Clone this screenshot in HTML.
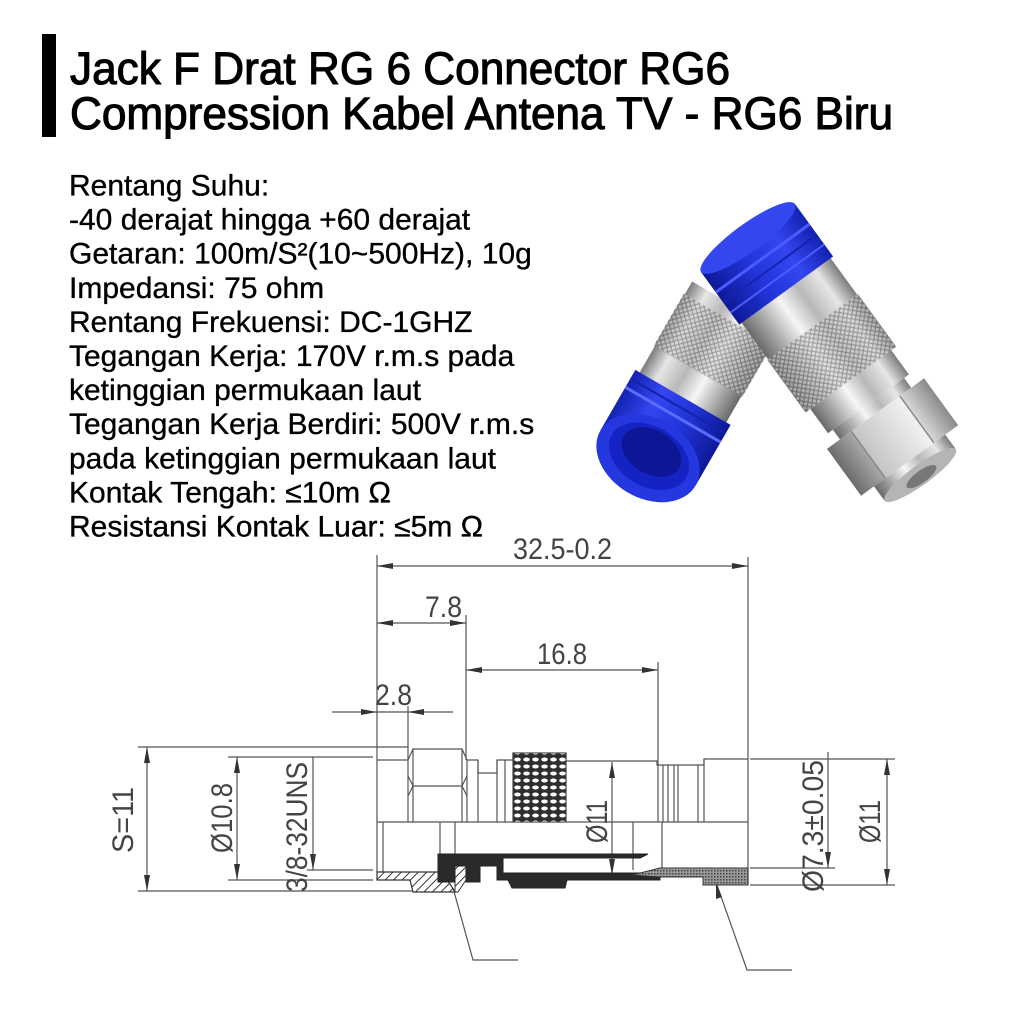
<!DOCTYPE html>
<html><head><meta charset="utf-8"><style>
html,body{margin:0;padding:0;background:#fff;}
svg{display:block;}
</style></head><body>
<svg width="1024" height="1024" viewBox="0 0 1024 1024" xmlns="http://www.w3.org/2000/svg">
<defs>
  <linearGradient id="cyl" x1="0" y1="0" x2="0" y2="1">
    <stop offset="0" stop-color="#7c7c7c"/><stop offset="0.18" stop-color="#e6e6e6"/>
    <stop offset="0.4" stop-color="#b8b8b8"/><stop offset="0.6" stop-color="#f6f6f6"/>
    <stop offset="0.85" stop-color="#9c9c9c"/><stop offset="1" stop-color="#6a6a6a"/>
  </linearGradient>
  <linearGradient id="hexg" x1="0" y1="0" x2="0" y2="1">
    <stop offset="0" stop-color="#8a8a8a"/><stop offset="0.25" stop-color="#d8d8d8"/>
    <stop offset="0.25" stop-color="#f2f2f2"/><stop offset="0.75" stop-color="#c4c4c4"/>
    <stop offset="0.75" stop-color="#a8a8a8"/><stop offset="1" stop-color="#6c6c6c"/>
  </linearGradient>
  <linearGradient id="bcyl" x1="0" y1="0" x2="0" y2="1">
    <stop offset="0" stop-color="#1322b0"/><stop offset="0.3" stop-color="#3446f0"/>
    <stop offset="0.6" stop-color="#2236dc"/><stop offset="1" stop-color="#0e1996"/>
  </linearGradient>
  <pattern id="knurl" width="6" height="6" patternUnits="userSpaceOnUse">
    <rect width="6" height="6" fill="#cfcfcf"/>
    <path d="M0,0 L6,6 M6,0 L0,6" stroke="#666" stroke-width="1.2"/>
  </pattern>
  <pattern id="dknurl" width="9" height="7" patternUnits="userSpaceOnUse">
    <rect width="9" height="7" fill="#2e2e2e"/>
    <ellipse cx="4.5" cy="3.5" rx="3.3" ry="2" fill="#fff"/>
  </pattern>
  <pattern id="hatch" width="6" height="6" patternUnits="userSpaceOnUse" patternTransform="rotate(45)">
    <rect width="6" height="6" fill="#fff"/>
    <line x1="0" y1="0" x2="0" y2="6" stroke="#333" stroke-width="2"/>
  </pattern>
  <pattern id="xhatch" width="3" height="3" patternUnits="userSpaceOnUse">
    <rect width="3" height="3" fill="#999"/>
    <rect width="1.5" height="1.5" fill="#444"/>
  </pattern>
</defs>

<!-- Title -->
<rect x="42" y="34" width="14" height="103" fill="#000"/>
<g font-family="Liberation Sans, Arial, sans-serif" fill="#000" stroke="#000" stroke-width="1.1">
  <text x="70" y="84" font-size="45" textLength="660" lengthAdjust="spacingAndGlyphs">Jack F Drat RG 6 Connector RG6</text>
  <text x="70" y="129" font-size="45" textLength="823" lengthAdjust="spacingAndGlyphs">Compression Kabel Antena TV - RG6 Biru</text>
</g>

<!-- Spec text -->
<g font-family="Liberation Sans, Arial, sans-serif" font-size="30" fill="#000" stroke="#000" stroke-width="0.35">
  <text x="69" y="195.5">Rentang Suhu:</text>
  <text x="69" y="229.6">-40 derajat hingga +60 derajat</text>
  <text x="69" y="263.7">Getaran: 100m/S²(10~500Hz), 10g</text>
  <text x="69" y="297.8">Impedansi: 75 ohm</text>
  <text x="69" y="331.9">Rentang Frekuensi: DC-1GHZ</text>
  <text x="69" y="366">Tegangan Kerja: 170V r.m.s pada</text>
  <text x="69" y="400.1">ketinggian permukaan laut</text>
  <text x="69" y="434.2">Tegangan Kerja Berdiri: 500V r.m.s</text>
  <text x="69" y="468.3">pada ketinggian permukaan laut</text>
  <text x="69" y="502.4">Kontak Tengah: ≤10m Ω</text>
  <text x="69" y="536.5">Resistansi Kontak Luar: ≤5m Ω</text>
</g>

<!-- Photo: left connector -->
<g transform="translate(648,458) rotate(-60)">
  <rect x="70" y="-50" width="105" height="100" fill="url(#cyl)"/>
  <rect x="100" y="-51" width="60" height="102" fill="url(#knurl)"/>
  <rect x="100" y="-51" width="60" height="102" fill="url(#cyl)" opacity="0.45"/>
  <rect x="0" y="-55" width="70" height="110" fill="url(#bcyl)"/>
  <line x1="50" y1="-55" x2="50" y2="55" stroke="#5a6cff" stroke-width="3"/>
  <line x1="60" y1="-55" x2="60" y2="55" stroke="#1422a8" stroke-width="2"/>
  <ellipse cx="0" cy="0" rx="40" ry="55" fill="#2538e0"/>
  <ellipse cx="2" cy="0" rx="30" ry="43" fill="#1523c4"/>
  <ellipse cx="7" cy="0" rx="22" ry="32" fill="#0d1796"/>
</g>
<!-- Photo: right connector -->
<g transform="translate(748,238) rotate(54)">
  <rect x="65" y="-55" width="45" height="110" fill="url(#cyl)"/>
  <rect x="110" y="-56" width="65" height="112" fill="url(#knurl)"/>
  <rect x="110" y="-56" width="65" height="112" fill="url(#cyl)" opacity="0.45"/>
  <rect x="175" y="-50" width="30" height="100" fill="url(#cyl)"/>
  <rect x="205" y="-44" width="12" height="88" fill="url(#cyl)"/>
  <rect x="217" y="-60" width="58" height="120" fill="url(#hexg)"/>
  <line x1="217" y1="-30" x2="275" y2="-30" stroke="#888" stroke-width="1.5"/>
  <line x1="217" y1="30" x2="275" y2="30" stroke="#888" stroke-width="1.5"/>
  <rect x="275" y="-44" width="18" height="88" fill="url(#cyl)"/>
  <ellipse cx="293" cy="0" rx="10" ry="44" fill="#b5b5b5"/>
  <ellipse cx="295" cy="0" rx="6" ry="18" fill="#777"/>
  <rect x="0" y="-58" width="65" height="116" fill="url(#bcyl)"/>
  <line x1="25" y1="-58" x2="25" y2="58" stroke="#4a5cff" stroke-width="3"/>
  <line x1="38" y1="-58" x2="38" y2="58" stroke="#1523b0" stroke-width="2"/>
  <line x1="50" y1="-58" x2="50" y2="58" stroke="#4a5cff" stroke-width="2"/>
  <ellipse cx="0" cy="0" rx="14" ry="58" fill="#3447ee"/>
</g>

<!-- Technical drawing -->
<g stroke="#555" stroke-width="1.2" fill="none">
  <line x1="377" y1="566" x2="748" y2="566"/>
  <line x1="377" y1="623" x2="466" y2="623"/>
  <line x1="466" y1="670" x2="658" y2="670"/>
  <line x1="332" y1="712" x2="453" y2="712"/>
  <line x1="377" y1="555" x2="377" y2="872"/>
  <line x1="466" y1="615" x2="466" y2="760"/>
  <line x1="658" y1="662" x2="658" y2="822"/>
  <line x1="748" y1="557" x2="748" y2="885"/>
  <line x1="408" y1="706" x2="408" y2="822"/>
  <line x1="138" y1="747" x2="408" y2="747"/>
  <line x1="138" y1="891" x2="412" y2="891"/>
  <line x1="147" y1="747" x2="147" y2="891"/>
  <line x1="228" y1="757" x2="373" y2="757"/>
  <line x1="228" y1="880" x2="373" y2="880"/>
  <line x1="237" y1="757" x2="237" y2="880"/>
  <line x1="307" y1="870" x2="373" y2="870"/>
  <line x1="313" y1="757" x2="313" y2="870"/>
  <line x1="612" y1="762" x2="612" y2="875"/>
  <line x1="750" y1="759" x2="895" y2="759"/>
  <line x1="750" y1="868" x2="835" y2="868"/>
  <line x1="750" y1="885" x2="895" y2="885"/>
  <line x1="828" y1="752" x2="828" y2="868"/>
  <line x1="887" y1="759" x2="887" y2="885"/>
  <path d="M377,760 H408 L413,749 H462 L467,760 H478 V773 H497 V760 H513 V753 H566 V761 H657 V765 H704 V759 H748"/>
  <line x1="413" y1="786" x2="462" y2="786"/>
  <path d="M408,776 L413,786 L408,796 M467,776 L462,786 L467,796"/>
  <line x1="413" y1="749" x2="413" y2="822"/>
  <line x1="462" y1="749" x2="462" y2="822"/>
  <line x1="467" y1="760" x2="467" y2="822"/>
  <line x1="478" y1="760" x2="478" y2="822"/>
  <line x1="497" y1="760" x2="497" y2="822"/>
  <line x1="505" y1="760" x2="505" y2="822"/>
  <line x1="513" y1="753" x2="513" y2="822"/>
  <line x1="566" y1="753" x2="566" y2="822"/>
  <line x1="663" y1="765" x2="663" y2="822"/>
  <line x1="668" y1="765" x2="668" y2="822"/>
  <line x1="674" y1="765" x2="674" y2="822"/>
  <line x1="678" y1="765" x2="678" y2="822"/>
  <line x1="698" y1="765" x2="698" y2="822"/>
  <line x1="704" y1="759" x2="704" y2="822"/>
  <line x1="377" y1="822" x2="748" y2="822"/>
  <line x1="383" y1="822" x2="383" y2="872"/>
  <line x1="440" y1="822" x2="440" y2="854"/>
  <line x1="455" y1="822" x2="455" y2="866"/>
  <line x1="633" y1="822" x2="633" y2="870"/>
  <line x1="662" y1="822" x2="662" y2="868"/>
  <path d="M453,888 L473,960 H518"/>
  <path d="M717,885 L747,970 H792"/>
</g>
<rect x="513" y="753" width="53" height="69" fill="url(#dknurl)" stroke="#444" stroke-width="1"/>
<polygon points="377,872 440,872 450,884 455,892 413,892 410,880 377,880" fill="url(#hatch)" stroke="#333" stroke-width="1.2"/>
<polygon points="455,866 466,866 466,880 458,892 455,892" fill="url(#hatch)" stroke="#333" stroke-width="1"/>
<path d="M438,854 H648 L640,858 H503 V873 H660 V880 H567 L565,888 H512 L508,880 H497 V866 H480 V882 H466 V866 H455 V882 H438 Z" fill="#2a2a2a" stroke="#222" stroke-width="1"/>
<polygon points="632,875 660,868 748,868 748,885 703,885 703,877 660,877" fill="url(#xhatch)" stroke="#333" stroke-width="1"/>

<g fill="#333">
  <polygon points="377,566 393,563 393,569"/>
  <polygon points="748,566 732,563 732,569"/>
  <polygon points="377,623 393,620 393,626"/>
  <polygon points="466,623 450,620 450,626"/>
  <polygon points="466,670 482,667 482,673"/>
  <polygon points="658,670 642,667 642,673"/>
  <polygon points="377,712 361,709 361,715"/>
  <polygon points="408,712 424,709 424,715"/>
  <polygon points="147,747 144,763 150,763"/>
  <polygon points="147,891 144,875 150,875"/>
  <polygon points="237,757 234,773 240,773"/>
  <polygon points="237,880 234,864 240,864"/>
  <polygon points="313,870 310,854 316,854"/>
  <polygon points="612,762 609,778 615,778"/>
  <polygon points="612,875 609,859 615,859"/>
  <polygon points="828,868 825,852 831,852"/>
  <polygon points="887,759 884,775 890,775"/>
  <polygon points="887,885 884,869 890,869"/>
  <polygon points="716,883 716,899 722,897"/>
</g>

<g font-family="Liberation Sans Narrow, Liberation Sans, Arial, sans-serif" font-size="30" fill="#444">
  <text x="513" y="559" textLength="99" lengthAdjust="spacingAndGlyphs">32.5-0.2</text>
  <text x="425" y="617" textLength="37" lengthAdjust="spacingAndGlyphs">7.8</text>
  <text x="537" y="664" textLength="50" lengthAdjust="spacingAndGlyphs">16.8</text>
  <text x="375" y="705" textLength="37" lengthAdjust="spacingAndGlyphs">2.8</text>
  <text transform="translate(133,853) rotate(-90)" textLength="66" lengthAdjust="spacingAndGlyphs">S=11</text>
  <text transform="translate(232,853) rotate(-90)" textLength="70" lengthAdjust="spacingAndGlyphs">Ø10.8</text>
  <text transform="translate(307,892) rotate(-90)" textLength="130" lengthAdjust="spacingAndGlyphs">3/8-32UNS</text>
  <text transform="translate(607,843) rotate(-90)" textLength="43" lengthAdjust="spacingAndGlyphs">Ø11</text>
  <text transform="translate(823,892) rotate(-90)" textLength="132" lengthAdjust="spacingAndGlyphs">Ø7.3±0.05</text>
  <text transform="translate(880,843) rotate(-90)" textLength="43" lengthAdjust="spacingAndGlyphs">Ø11</text>
</g>
</svg>
</body></html>
